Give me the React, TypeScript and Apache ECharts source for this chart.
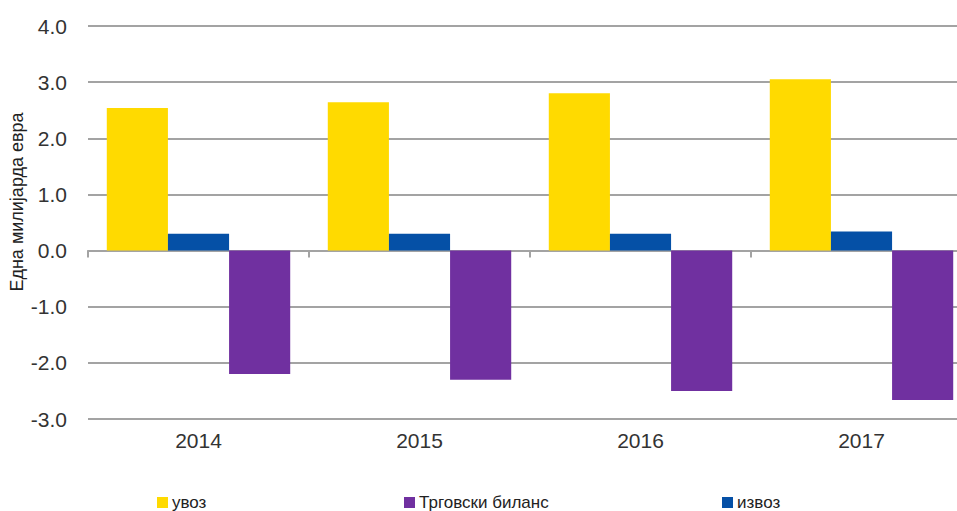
import React, { useEffect, useRef } from "react";
import * as echarts from "echarts";

const categories = ["2014", "2015", "2016", "2017"];
const imports = [2.54, 2.64, 2.8, 3.05];
const exportsV = [0.3, 0.3, 0.3, 0.34];
const balance = [-2.2, -2.3, -2.5, -2.66];
const yTicks = { min: -3, max: 4, interval: 1 };

const FONT = "'Liberation Sans', Arial, sans-serif";
const C_Y = "#FFDA00";
const C_B = "#0550A6";
const C_P = "#7030A0";
const GRID = "#a3a3a3";

export default function App() {
  const ref = useRef<HTMLDivElement>(null);
  useEffect(() => {
    const chart = echarts.init(ref.current!, null, { renderer: "svg" });
    const legendBase = {
      top: 494,
      padding: 0,
      itemWidth: 11,
      itemHeight: 11,
      icon: "rect",
      itemGap: 5,
      textStyle: { fontFamily: FONT, fontSize: 17, lineHeight: 16, color: "#222", padding: [0, 0, 0, -1] },
    };
    chart.setOption({
      animation: false,
      textStyle: { fontFamily: FONT },
      grid: { left: 88, right: 0, top: 26, bottom: 92, containLabel: false },
      legend: [
        { ...legendBase, left: 157, data: ["увоз"] },
        { ...legendBase, left: 404, data: ["Трговски биланс"] },
        { ...legendBase, left: 722, data: ["извоз"] },
      ],
      xAxis: [
        {
          type: "category",
          data: categories,
          axisLine: { onZero: true, lineStyle: { color: GRID, width: 2 } },
          axisTick: { show: true, length: 7, lineStyle: { color: GRID, width: 2 } },
          axisLabel: { show: false },
        },
        {
          type: "category",
          data: categories,
          position: "bottom",
          axisLine: { show: false, onZero: false },
          axisTick: { show: false },
          axisLabel: { margin: 11, fontSize: 21, color: "#333", fontFamily: FONT },
        },
      ],
      yAxis: {
        type: "value",
        min: yTicks.min,
        max: yTicks.max,
        interval: yTicks.interval,
        axisLine: { show: false },
        axisTick: { show: false },
        splitLine: { lineStyle: { color: GRID, width: 2 } },
        axisLabel: {
          margin: 21,
          fontSize: 21,
          color: "#333",
          fontFamily: FONT,
          formatter: (v: number) => v.toFixed(1),
        },
      },
      graphic: [
        {
          type: "text",
          x: 17,
          y: 202,
          rotation: Math.PI / 2,
          style: {
            text: "Една милијарда евра",
            fontSize: 18,
            fontFamily: FONT,
            fill: "#222",
            align: "center",
            verticalAlign: "middle",
          },
        },
      ],
      series: [
        {
          name: "увоз",
          type: "bar",
          data: imports,
          barGap: "0%",
          barCategoryGap: "17%",
          itemStyle: { color: C_Y },
        },
        {
          name: "извоз",
          type: "bar",
          data: exportsV,
          barGap: "0%",
          barCategoryGap: "17%",
          itemStyle: { color: C_B },
        },
        {
          name: "Трговски биланс",
          type: "bar",
          data: balance,
          barGap: "0%",
          barCategoryGap: "17%",
          itemStyle: { color: C_P },
        },
      ],
    });
    return () => chart.dispose();
  }, []);
  return (
    <div style={{ position: "absolute", left: 0, top: 0, width: 957, height: 511, overflow: "hidden" }}>
      <div ref={ref} style={{ width: 972, height: 511 }} />
    </div>
  );
}
